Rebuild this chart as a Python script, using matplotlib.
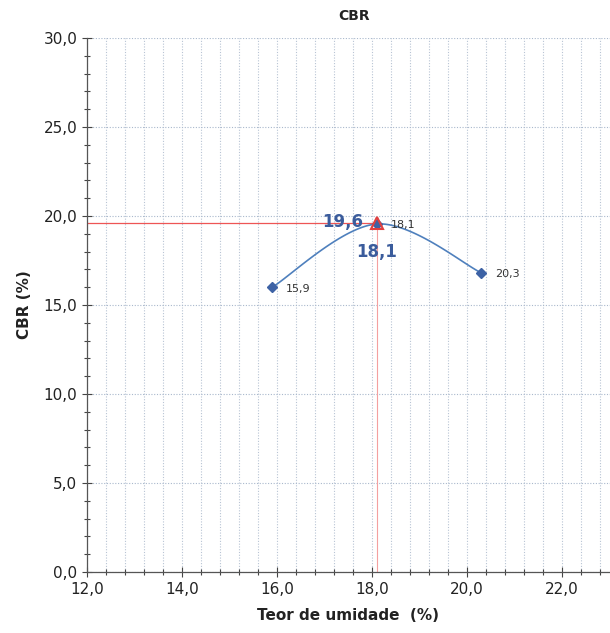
import numpy as np
import matplotlib
matplotlib.use("Agg")
import matplotlib.pyplot as plt
from matplotlib.ticker import MultipleLocator, FuncFormatter

# Data
umidade = [15.9, 18.1, 20.3]          # Teor de umidade (%)
cbr = [16.0, 19.55, 16.8]             # CBR (%)
point_labels = ["15,9", "18,1", "20,3"]
peak_umidade = 18.1
peak_cbr = 19.6
peak_umidade_label = "18,1"
peak_cbr_label = "19,6"

def catmull_rom(xs, ys, n=60):
    # Excel-like smoothed line through the data points
    P = np.column_stack([xs, ys])
    P = np.vstack([P[0], P, P[-1]])
    out = []
    for i in range(1, len(P) - 2):
        p0, p1, p2, p3 = P[i - 1], P[i], P[i + 1], P[i + 2]
        c1 = p1 + (p2 - p0) / 6.0
        c2 = p2 - (p3 - p1) / 6.0
        t = np.linspace(0, 1, n)[:, None]
        b = ((1 - t) ** 3) * p1 + 3 * ((1 - t) ** 2) * t * c1 + 3 * (1 - t) * t ** 2 * c2 + t ** 3 * p2
        out.append(b)
    out = np.vstack(out)
    return out[:, 0], out[:, 1]

fig = plt.figure(figsize=(6.10, 6.33), dpi=100)
ax = fig.add_axes([0.1426, 0.0964, 0.857, 0.8436])

ax.set_xlim(12, 23.0)
ax.set_ylim(0, 30)

comma = FuncFormatter(lambda v, p: f"{v:.1f}".replace(".", ","))
ax.xaxis.set_major_locator(MultipleLocator(2))
ax.xaxis.set_minor_locator(MultipleLocator(0.4))
ax.yaxis.set_major_locator(MultipleLocator(5))
ax.yaxis.set_minor_locator(MultipleLocator(1))
ax.xaxis.set_major_formatter(comma)
ax.yaxis.set_major_formatter(comma)

ax.grid(True, which="major", axis="y", color="#a9b8cc", linestyle=(0, (1, 1.5)), linewidth=0.8)
ax.grid(True, which="minor", axis="x", color="#b8c4d4", linestyle=(0, (1, 1.5)), linewidth=0.8)
ax.grid(True, which="major", axis="x", color="#b8c4d4", linestyle=(0, (1, 1.5)), linewidth=0.8)
ax.set_axisbelow(True)

for s in ["top", "right"]:
    ax.spines[s].set_visible(False)
for s in ["left", "bottom"]:
    ax.spines[s].set_color("#555555")
    ax.spines[s].set_linewidth(0.9)

ax.tick_params(which="both", direction="inout", colors="#444444", width=0.8)
ax.tick_params(which="major", length=7, labelsize=11, labelcolor="#222222")
ax.tick_params(which="minor", length=5)

# Red reference lines to peak
ax.plot([12, peak_umidade], [peak_cbr, peak_cbr], color="#ee5555", linewidth=0.9, zorder=2)
ax.plot([peak_umidade, peak_umidade], [0, peak_cbr], color="#f4a0a0", linewidth=0.8, zorder=2)

# Smoothed curve
sx, sy = catmull_rom(umidade, cbr)
ax.plot(sx, sy, color="#4f80bd", linewidth=1.2, zorder=3)
ax.plot(umidade, cbr, linestyle="none", marker="D", markersize=5, color="#3d62a5", zorder=4)

# Peak marker
ax.plot([peak_umidade], [peak_cbr], marker="^", markersize=8, markerfacecolor="none",
        markeredgecolor="#e04040", markeredgewidth=1.5, linestyle="none", zorder=5)

for x, y, lab in zip(umidade, cbr, point_labels):
    ax.annotate(lab, (x, y), xytext=(10, -1), textcoords="offset points",
                fontsize=8, color="#333333", va="center", ha="left")

ax.annotate(peak_cbr_label, (peak_umidade, peak_cbr), xytext=(-10, 1), textcoords="offset points",
            fontsize=12, fontweight="bold", color="#3b5c9c", ha="right", va="center")
ax.annotate(peak_umidade_label, (peak_umidade, peak_cbr), xytext=(0, -21), textcoords="offset points",
            fontsize=12, fontweight="bold", color="#3b5c9c", ha="center", va="center")

ax.set_xlabel("Teor de umidade  (%)", fontsize=11, fontweight="semibold", color="#222222", labelpad=8)
ax.set_ylabel("CBR (%)", fontsize=11, fontweight="bold", color="#222222", labelpad=8)
fig.text(0.58, 0.974, "CBR", ha="center", va="center", fontsize=10, fontweight="bold", color="#222222")

fig.savefig("out.png", dpi=100)
